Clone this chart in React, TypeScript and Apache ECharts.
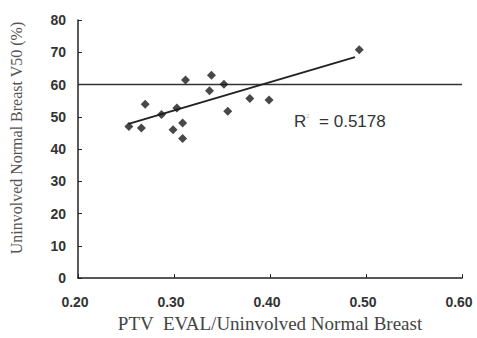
import React, { useEffect, useRef } from "react";
import * as echarts from "echarts";

const xTicks = [0.2, 0.3, 0.4, 0.5, 0.6];
const ratio = [0.253, 0.266, 0.270, 0.287, 0.299, 0.303, 0.309, 0.309, 0.312, 0.337, 0.339, 0.352, 0.356, 0.379, 0.399, 0.493];
const v50 = [47.0, 46.5, 53.9, 50.7, 46.0, 52.7, 48.1, 43.3, 61.4, 58.1, 62.9, 60.1, 51.7, 55.7, 55.2, 70.8];
const trendX = [0.2526, 0.4885];
const trendY = [47.8, 68.5];
const refX = [0.2, 0.6];
const refY = [60, 60];
const rLabel = "0.5178";

export default function App() {
  const ref = useRef<HTMLDivElement>(null);
  useEffect(() => {
    const chart = echarts.init(ref.current!, null, { renderer: "svg" });
    chart.setOption({
      animation: false,
      backgroundColor: "#fff",
      grid: { left: 72, right: 15, top: 20, bottom: 55 },
      xAxis: {
        type: "value",
        min: xTicks[0],
        max: xTicks[xTicks.length - 1],
        interval: 0.1,
        name: "PTV  EVAL/Uninvolved Normal Breast",
        nameLocation: "middle",
        nameGap: 35,
        nameTextStyle: { fontFamily: "Liberation Serif", fontSize: 19, color: "#444" },
        axisLine: { lineStyle: { color: "#222", width: 1.5 } },
        axisTick: { inside: true, length: 4, lineStyle: { color: "#222" } },
        splitLine: { show: false },
        axisLabel: {
          margin: 17,
          fontFamily: "Liberation Sans",
          fontWeight: "bold",
          fontSize: 14,
          color: "#333",
          padding: [0, 6, 0, 0],
          formatter: (v: number) => v.toFixed(2),
        },
      },
      yAxis: {
        type: "value",
        min: 0,
        max: 80,
        interval: 10,
        name: "Uninvolved Normal Breast V50 (%)",
        nameLocation: "middle",
        nameGap: 54,
        nameTextStyle: { fontFamily: "Liberation Serif", fontSize: 16, color: "#555", padding: [0, 0, 0, 22] },
        axisLine: { show: true, lineStyle: { color: "#222", width: 1.5 } },
        axisTick: { show: true, inside: true, length: 4, lineStyle: { color: "#222" } },
        splitLine: { show: false },
        axisLabel: {
          margin: 12,
          fontFamily: "Liberation Sans",
          fontWeight: "bold",
          fontSize: 14,
          color: "#333",
        },
      },
      series: [
        {
          type: "line",
          data: refX.map((x, i) => [x, refY[i]]),
          symbol: "none",
          lineStyle: { color: "#333", width: 1.5 },
          z: 1,
        },
        {
          type: "line",
          data: trendX.map((x, i) => [x, trendY[i]]),
          symbol: "none",
          lineStyle: { color: "#222", width: 2 },
          z: 2,
        },
        {
          type: "scatter",
          data: ratio.map((x, i) => [x, v50[i]]),
          symbol: "diamond",
          symbolSize: 9,
          itemStyle: { color: "#1a1a1a" },
          z: 3,
        },
      ],
      graphic: [
        {
          type: "text",
          x: 294,
          y: 113,
          style: {
            text: "{r|R}{s|2}{r|  = " + rLabel + "}",
            rich: {
              r: { fontFamily: "Liberation Sans", fontSize: 17, fill: "#333" },
              s: { fontFamily: "Liberation Sans", fontSize: 6, fill: "#bbb", verticalAlign: "top", padding: [0, 0, 10, 0] },
            },
          },
        },
      ],
    });
    return () => chart.dispose();
  }, []);
  return <div ref={ref} style={{ position: "fixed", left: 0, top: 0, width: 477, height: 338 }} />;
}
